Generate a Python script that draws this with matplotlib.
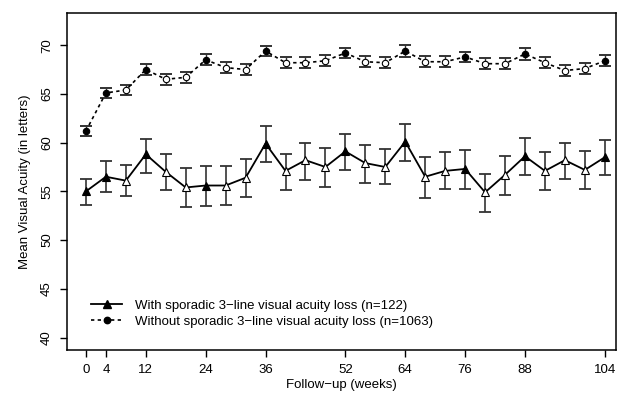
import matplotlib
matplotlib.use('Agg')
import matplotlib.pyplot as plt
from matplotlib.lines import Line2D

plt.rcParams['font.family'] = ['Liberation Sans', 'DejaVu Sans']

# follow-up visits (weeks)
weeks = [0, 4, 8, 12, 16, 20, 24, 28, 32, 36, 40, 44, 48, 52,
         56, 60, 64, 68, 72, 76, 80, 84, 88, 92, 96, 100, 104]
tick_weeks = [0, 4, 12, 24, 36, 52, 64, 76, 88, 104]

# with sporadic 3-line loss (n=122)
loss_mean = [55.0, 56.5, 56.1, 58.8, 57.0, 55.4, 55.6, 55.6, 56.4, 59.9, 57.1, 58.2, 57.5, 59.1,
             57.9, 57.5, 60.1, 56.5, 57.1, 57.3, 54.9, 56.7, 58.6, 57.1, 58.2, 57.2, 58.5]
loss_lo = [53.6, 54.9, 54.5, 56.9, 55.1, 53.4, 53.5, 53.6, 54.4, 58.0, 55.1, 56.2, 55.4, 57.2,
           55.9, 55.8, 58.1, 54.3, 55.2, 55.2, 52.9, 54.6, 56.7, 55.1, 56.3, 55.2, 56.7]
loss_hi = [56.3, 58.1, 57.7, 60.4, 58.8, 57.4, 57.6, 57.6, 58.3, 61.7, 58.8, 60.0, 59.4, 60.9,
           59.8, 59.3, 61.9, 58.5, 59.0, 59.2, 56.8, 58.6, 60.5, 59.0, 60.0, 59.1, 60.3]

# without sporadic 3-line loss (n=1063)
noloss_mean = [61.2, 65.1, 65.4, 67.5, 66.5, 66.7, 68.5, 67.7, 67.5, 69.4, 68.2, 68.2, 68.4, 69.2,
               68.3, 68.2, 69.4, 68.3, 68.3, 68.8, 68.1, 68.1, 69.1, 68.2, 67.4, 67.6, 68.4]
noloss_err = [0.5, 0.5, 0.5, 0.55, 0.55, 0.55, 0.55, 0.55, 0.55, 0.55, 0.55, 0.55, 0.55, 0.55,
              0.55, 0.55, 0.6, 0.55, 0.55, 0.55, 0.55, 0.55, 0.6, 0.55, 0.6, 0.6, 0.55]

loss_label = 'With sporadic 3\u2212line visual acuity loss (n=122)'
noloss_label = 'Without sporadic 3\u2212line visual acuity loss (n=1063)'

fig = plt.figure(figsize=(6.18, 4.03), dpi=100)
ax = fig.add_axes([0.1084, 0.131, 0.888, 0.8367])

err_lo = [m - l for m, l in zip(loss_mean, loss_lo)]
err_hi = [h - m for m, h in zip(loss_mean, loss_hi)]
ax.errorbar(weeks, loss_mean, yerr=[err_lo, err_hi], fmt='none', ecolor='#333333',
            elinewidth=1.2, capsize=4.2, capthick=1.3, zorder=2)
ax.plot(weeks, loss_mean, color='black', lw=1.3, zorder=3)

ax.errorbar(weeks, noloss_mean, yerr=noloss_err, fmt='none', ecolor='#333333',
            elinewidth=1.0, capsize=4.2, capthick=1.4, zorder=2)
ax.plot(weeks, noloss_mean, color='black', lw=1.2, ls=(0, (2, 2)), zorder=3)

# filled markers at labelled visits, open elsewhere
for w, a, b in zip(weeks, loss_mean, noloss_mean):
    filled = w in tick_weeks
    fc = 'black' if filled else 'white'
    ax.plot([w], [a], marker='^', ms=5.3, mfc=fc, mec='black', mew=0.8, zorder=4)
    ax.plot([w], [b], marker='o', ms=4.6, mfc=fc, mec='black', mew=0.8, zorder=4)

ax.set_xlim(-3.8, 106.2)
ax.set_ylim(38.7, 73.3)
ax.set_xticks(tick_weeks)
ax.set_yticks([40, 45, 50, 55, 60, 65, 70])
ax.tick_params(axis='both', direction='out', length=5, width=1, labelsize=9.5, pad=5)
for lbl in ax.get_yticklabels():
    lbl.set_rotation(90)
    lbl.set_va('center')
for sp in ax.spines.values():
    sp.set_linewidth(1.1)

ax.set_xlabel('Follow\u2212up (weeks)', fontsize=9.5, labelpad=2)
ax.set_ylabel('Mean Visual Acuity (in letters)', fontsize=9.5, labelpad=7)

handles = [
    Line2D([], [], color='black', lw=1.3, marker='^', ms=5.3, mfc='black'),
    Line2D([], [], color='black', lw=1.2, ls=(0, (2, 2)), marker='o', ms=4.6, mfc='black'),
]
ax.legend(handles, [loss_label, noloss_label], loc='lower left',
          bbox_to_anchor=(0.035, 0.05), frameon=False, fontsize=9.5,
          handlelength=2.3, handletextpad=1.0, labelspacing=0.3, borderaxespad=0)

fig.savefig('out.png', dpi=100)
